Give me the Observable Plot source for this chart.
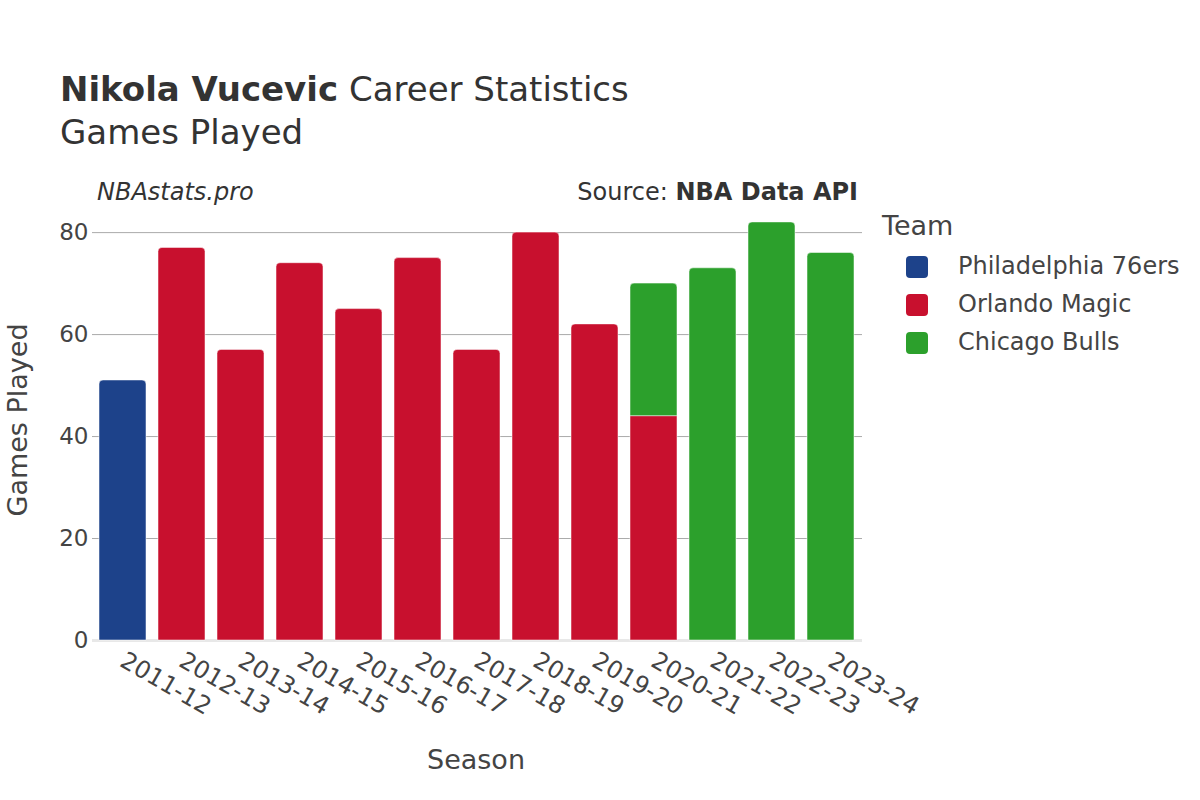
<!DOCTYPE html>
<html>
<head>
<meta charset="utf-8">
<script src="https://cdn.jsdelivr.net/npm/d3@7"></script>
<script src="https://cdn.jsdelivr.net/npm/@observablehq/plot@0.6"></script>
<style>
  html, body { margin: 0; padding: 0; background: #fff; }
  #wrap { position: relative; width: 1200px; height: 800px; font-family: "DejaVu Sans", sans-serif; color: #444; overflow: hidden; }
  #wrap svg { position: absolute; left: 0; top: 0; }
  .abs { position: absolute; white-space: nowrap; }
  .sw { position: absolute; width: 22px; height: 22px; border-radius: 4px; }
</style>
</head>
<body>
<div id="wrap">
  <div class="abs" style="left:60px; top:69px; font-size:34px; color:#333;"><b>Nikola Vucevic</b> Career Statistics</div>
  <div class="abs" style="left:60px; top:112px; font-size:34px; color:#333;">Games Played</div>
  <div class="abs" style="left:97px; top:178px; font-size:24px; font-style:italic; color:#333;">NBAstats.pro</div>
  <div class="abs" style="right:342px; top:178px; font-size:24px; color:#333;">Source: <b>NBA Data API</b></div>
  <div class="abs" style="left:427px; top:744px; font-size:27px; color:#444;">Season</div>
  <div class="abs" style="left:17px; top:420px; font-size:27px; color:#444; transform: translate(-50%,-50%) rotate(-90deg);">Games Played</div>
  <div id="legend"></div>
</div>
<script>
const seasons = ["2011-12","2012-13","2013-14","2014-15","2015-16","2016-17","2017-18","2018-19","2019-20","2020-21","2021-22","2022-23","2023-24"];
const teams = ["Philadelphia 76ers","Orlando Magic","Chicago Bulls"];
const teamColors = ["#1d428a","#c8102e","#2ca02c"];
const rowSeason = ["2011-12","2012-13","2013-14","2014-15","2015-16","2016-17","2017-18","2018-19","2019-20","2020-21","2020-21","2021-22","2022-23","2023-24"];
const rowTeam = ["Philadelphia 76ers","Orlando Magic","Orlando Magic","Orlando Magic","Orlando Magic","Orlando Magic","Orlando Magic","Orlando Magic","Orlando Magic","Orlando Magic","Chicago Bulls","Chicago Bulls","Chicago Bulls","Chicago Bulls"];
const rowGames = [51,77,57,74,65,75,57,80,62,44,26,73,82,76];
const yTicks = [0,20,40,60,80];

// stack segments in team order
const rows = rowSeason.map((s, i) => ({season: s, team: rowTeam[i], games: rowGames[i]}));
rows.sort((a, b) => teams.indexOf(a.team) - teams.indexOf(b.team));
const base = new Map();
for (const r of rows) {
  const b = base.get(r.season) || 0;
  r.y1 = b; r.y2 = b + r.games;
  base.set(r.season, r.y2);
}
for (const r of rows) r.top = r.y2 === base.get(r.season);

const common = {x: "season", y1: "y1", y2: "y2", fill: "team", stroke: "white", strokeOpacity: 0.5, strokeWidth: 1, inset: 0};

const chart = Plot.plot({
  width: 1200,
  height: 800,
  marginLeft: 92,
  marginRight: 338,
  marginTop: 200,
  marginBottom: 160,
  style: {fontFamily: "DejaVu Sans, sans-serif", color: "#444", background: "transparent"},
  x: {type: "band", domain: seasons, paddingInner: 0.2, paddingOuter: 0.1, axis: null},
  y: {domain: [0, 86.3], axis: null},
  color: {domain: teams, range: teamColors},
  marks: [
    Plot.ruleY(yTicks.filter(d => d > 0), {stroke: "#aaa", strokeWidth: 1}),
    Plot.ruleY([0], {stroke: "#e8e8e8", strokeWidth: 3}),
    Plot.rectY(rows.filter(d => !d.top), {...common}),
    Plot.rectY(rows.filter(d => d.top), {...common, ry2: 4}),
    Plot.text(yTicks, {y: d => d, text: d => String(d), frameAnchor: "left", textAnchor: "end", dx: -4, fontSize: 23, fill: "#444"}),
    Plot.text(seasons, {x: d => d, text: d => d, frameAnchor: "bottom", textAnchor: "start", lineAnchor: "top", rotate: 30, dx: 4, dy: 10, fontSize: 24, fill: "#444"})
  ]
});
document.getElementById("wrap").appendChild(chart);

// legend
const lg = document.getElementById("legend");
const title = document.createElement("div");
title.className = "abs";
title.style.cssText = "left:882px; top:210px; font-size:27px; color:#444;";
title.textContent = "Team";
lg.appendChild(title);
teams.forEach((t, i) => {
  const cy = 267 + i * 38;
  const sw = document.createElement("div");
  sw.className = "sw";
  sw.style.left = "906px";
  sw.style.top = (cy - 11) + "px";
  sw.style.background = teamColors[i];
  lg.appendChild(sw);
  const lab = document.createElement("div");
  lab.className = "abs";
  lab.style.cssText = `left:958px; top:${cy - 15}px; font-size:24px; color:#444;`;
  lab.textContent = t;
  lg.appendChild(lab);
});
</script>
</body>
</html>
